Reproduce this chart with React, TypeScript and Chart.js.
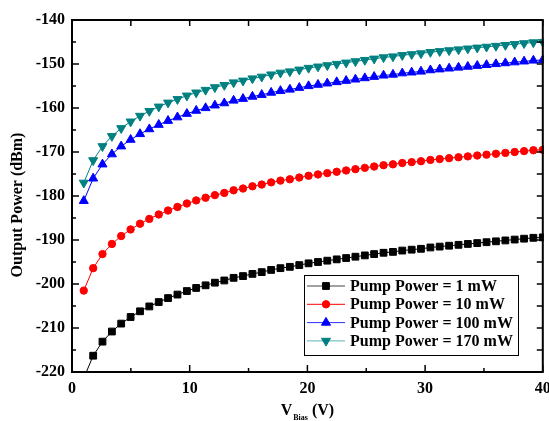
import React, { useEffect, useRef } from "react";
import { Chart, registerables } from "chart.js";

Chart.register(...registerables);

const FONT = "'Liberation Serif', 'Times New Roman', serif";

// Bias voltage (V)
const vBias = [
  1, 1.8, 2.59, 3.39, 4.18, 4.98, 5.78, 6.57, 7.37, 8.16,
  8.96, 9.76, 10.55, 11.35, 12.14, 12.94, 13.73, 14.53, 15.33, 16.12,
  16.92, 17.71, 18.51, 19.31, 20.1, 20.9, 21.69, 22.49, 23.29, 24.08,
  24.88, 25.67, 26.47, 27.27, 28.06, 28.86, 29.65, 30.45, 31.24, 32.04,
  32.84, 33.63, 34.43, 35.22, 36.02, 36.82, 37.61, 38.41, 39.2, 40,
];

// Output power (dBm)
const pump1mW = [
  -221.4, -216.3, -213.1, -210.8, -209.0, -207.5, -206.2, -205.1, -204.1, -203.2,
  -202.4, -201.6, -200.9, -200.3, -199.7, -199.2, -198.6, -198.2, -197.7, -197.3,
  -196.8, -196.4, -196.1, -195.7, -195.3, -195.0, -194.7, -194.4, -194.1, -193.8,
  -193.5, -193.2, -192.9, -192.7, -192.4, -192.2, -192.0, -191.7, -191.5, -191.3,
  -191.1, -190.9, -190.7, -190.5, -190.3, -190.1, -189.9, -189.7, -189.5, -189.4,
];
const pump10mW = [
  -201.5, -196.4, -193.2, -190.9, -189.1, -187.6, -186.3, -185.2, -184.2, -183.3,
  -182.5, -181.7, -181.0, -180.4, -179.8, -179.3, -178.7, -178.3, -177.8, -177.4,
  -176.9, -176.5, -176.2, -175.8, -175.4, -175.1, -174.8, -174.5, -174.2, -173.9,
  -173.6, -173.3, -173.0, -172.8, -172.5, -172.3, -172.1, -171.8, -171.6, -171.4,
  -171.2, -171.0, -170.8, -170.6, -170.4, -170.2, -170.0, -169.8, -169.6, -169.5,
];
const pump100mW = [
  -181.1, -176.0, -172.8, -170.5, -168.7, -167.2, -165.9, -164.8, -163.8, -162.9,
  -162.1, -161.3, -160.6, -160.0, -159.4, -158.9, -158.3, -157.9, -157.4, -157.0,
  -156.5, -156.1, -155.8, -155.4, -155.0, -154.7, -154.4, -154.1, -153.8, -153.5,
  -153.2, -152.9, -152.6, -152.4, -152.1, -151.9, -151.7, -151.4, -151.2, -151.0,
  -150.8, -150.6, -150.4, -150.2, -150.0, -149.8, -149.6, -149.4, -149.2, -149.1,
];
const pump170mW = [
  -177.0, -171.9, -168.7, -166.4, -164.6, -163.1, -161.8, -160.7, -159.7, -158.8,
  -158.0, -157.2, -156.5, -155.9, -155.3, -154.8, -154.2, -153.8, -153.3, -152.9,
  -152.4, -152.0, -151.7, -151.3, -150.9, -150.6, -150.3, -150.0, -149.7, -149.4,
  -149.1, -148.8, -148.5, -148.3, -148.0, -147.8, -147.6, -147.3, -147.1, -146.9,
  -146.7, -146.5, -146.3, -146.1, -145.9, -145.7, -145.5, -145.3, -145.1, -145.0,
];

const seriesLabels = [
  "Pump Power = 1 mW",
  "Pump Power = 10 mW",
  "Pump Power = 100 mW",
  "Pump Power = 170 mW",
];
const seriesValues = [pump1mW, pump10mW, pump100mW, pump170mW];
const seriesColors = ["#000000", "#ff0000", "#0000ff", "#008080"];
const legendLineColors = ["#444444", "#ff0000", "#3030ff", "#5fb3b3"];
const seriesStyles = ["rect", "circle", "triangle", "triangle"];
const seriesRotations = [0, 0, 0, 180];
const seriesRadii = [4.8, 3.7, 5.2, 5.2];

const xTickStep = 10;
const yTickStep = 10;
const xRange = [0, 40];
const yRange = [-220, -140];

function drawMarker(ctx: CanvasRenderingContext2D, style: string, rot: number, r: number, x: number, y: number, color: string) {
  ctx.save();
  ctx.fillStyle = color;
  ctx.strokeStyle = color;
  ctx.lineWidth = 1;
  ctx.beginPath();
  if (style === "rect") {
    const s = Math.SQRT1_2 * r;
    ctx.rect(x - s, y - s, 2 * s, 2 * s);
  } else if (style === "circle") {
    ctx.arc(x, y, r, 0, Math.PI * 2);
  } else {
    let rad = (rot * Math.PI) / 180;
    ctx.moveTo(x + Math.sin(rad) * r, y - Math.cos(rad) * r);
    rad += (2 * Math.PI) / 3;
    ctx.lineTo(x + Math.sin(rad) * r, y - Math.cos(rad) * r);
    rad += (2 * Math.PI) / 3;
    ctx.lineTo(x + Math.sin(rad) * r, y - Math.cos(rad) * r);
    ctx.closePath();
  }
  ctx.fill();
  ctx.stroke();
  ctx.restore();
}

const framePlugin = {
  id: "frameTicks",
  afterDatasetsDraw(chart: any) {
    const { ctx, chartArea } = chart;
    const { left, right, top, bottom } = chartArea;
    const xs = chart.scales.x;
    const ys = chart.scales.y;
    ctx.save();
    ctx.strokeStyle = "#000";
    ctx.lineWidth = 1.5;
    ctx.beginPath();
    for (let v = xs.min; v <= xs.max + 1e-9; v += xTickStep / 2) {
      const px = xs.getPixelForValue(v);
      const major = Math.abs(v % xTickStep) < 1e-9;
      ctx.moveTo(px, bottom);
      ctx.lineTo(px, bottom - (major ? 7 : 4));
      ctx.moveTo(px, top);
      ctx.lineTo(px, top + 6);
    }
    for (let v = ys.min; v <= ys.max + 1e-9; v += yTickStep / 2) {
      const py = ys.getPixelForValue(v);
      const major = Math.abs(v % yTickStep) < 1e-9;
      ctx.moveTo(left, py);
      ctx.lineTo(left + (major ? 7 : 4), py);
      ctx.moveTo(right, py);
      ctx.lineTo(right - 6, py);
    }
    ctx.stroke();
    ctx.lineWidth = 2;
    ctx.strokeRect(left, top, right - left, bottom - top);

    // legend
    const bx = 304, by = 275, bw = 214, bh = 80;
    ctx.fillStyle = "#fff";
    ctx.fillRect(bx, by, bw, bh);
    ctx.lineWidth = 1;
    ctx.strokeStyle = "#000";
    ctx.strokeRect(bx + 0.5, by + 0.5, bw, bh);
    ctx.font = `bold 16px ${FONT}`;
    ctx.textBaseline = "middle";
    ctx.textAlign = "left";
    seriesLabels.forEach((lab, i) => {
      const cy = by + 11 + i * 18.3;
      ctx.strokeStyle = legendLineColors[i];
      ctx.lineWidth = 1;
      ctx.beginPath();
      ctx.moveTo(307, cy);
      ctx.lineTo(345, cy);
      ctx.stroke();
      drawMarker(ctx, seriesStyles[i], seriesRotations[i], seriesRadii[i], 326, cy, seriesColors[i]);
      ctx.fillStyle = "#000";
      ctx.fillText(lab, 350, cy + 1);
    });
    ctx.restore();
  },
  afterDraw(chart: any) {
    const { ctx, chartArea } = chart;
    const { left, right } = chartArea;
    ctx.save();
    ctx.fillStyle = "#000";
    // y title
    ctx.save();
    ctx.translate(18, 205);
    ctx.rotate(-Math.PI / 2);
    ctx.font = `bold 16px ${FONT}`;
    ctx.textAlign = "center";
    ctx.textBaseline = "middle";
    ctx.fillText("Output Power (dBm)", 0, 0);
    ctx.restore();
    // x title with subscript
    const big = `bold 16px ${FONT}`;
    const small = `bold 8px ${FONT}`;
    ctx.font = big;
    const w1 = ctx.measureText("V").width;
    const w3 = ctx.measureText(" (V)").width;
    ctx.font = small;
    const w2 = ctx.measureText("Bias").width;
    const total = w1 + 1 + w2 + w3;
    let x0 = (left + right) / 2 - total / 2;
    const base = 415;
    ctx.textAlign = "left";
    ctx.textBaseline = "alphabetic";
    ctx.font = big;
    ctx.fillText("V", x0, base);
    x0 += w1 + 1;
    ctx.font = small;
    ctx.fillText("Bias", x0, base + 5);
    x0 += w2;
    ctx.font = big;
    ctx.fillText(" (V)", x0, base);
    ctx.restore();
  },
};

export default function App() {
  const ref = useRef<HTMLCanvasElement | null>(null);
  useEffect(() => {
    document.body.style.margin = "0";
    const canvas = ref.current;
    if (!canvas) return;
    const chart = new Chart(canvas, {
      type: "line",
      data: {
        datasets: seriesValues.map((vals, i) => ({
          label: seriesLabels[i],
          data: vals.map((y, k) => ({ x: vBias[k], y })),
          borderColor: seriesColors[i],
          backgroundColor: seriesColors[i],
          borderWidth: 1,
          pointStyle: seriesStyles[i] as any,
          rotation: seriesRotations[i],
          pointRadius: seriesRadii[i],
          pointBorderWidth: 1,
          pointBorderColor: seriesColors[i],
          pointBackgroundColor: seriesColors[i],
          tension: 0,
          clip: 1,
        })),
      },
      options: {
        responsive: false,
        animation: false,
        devicePixelRatio: 1,
        layout: { padding: { top: 20, right: 5, left: 0, bottom: 0 } },
        plugins: { legend: { display: false }, tooltip: { enabled: false } },
        scales: {
          x: {
            type: "linear",
            min: xRange[0],
            max: xRange[1],
            grid: { display: false, drawTicks: false },
            border: { display: false },
            ticks: {
              stepSize: xTickStep,
              color: "#000",
              font: { family: FONT, weight: "bold", size: 16 },
              padding: 7,
              maxRotation: 0,
            },
            afterFit: (s: any) => {
              s.height = 49;
              s.paddingLeft = 0;
              s.paddingRight = 0;
            },
          },
          y: {
            type: "linear",
            min: yRange[0],
            max: yRange[1],
            grid: { display: false, drawTicks: false },
            border: { display: false },
            ticks: {
              stepSize: yTickStep,
              color: "#000",
              font: { family: FONT, weight: "bold", size: 16 },
              padding: 7,
            },
            afterFit: (s: any) => {
              s.width = 72;
              s.paddingTop = 0;
              s.paddingBottom = 0;
            },
          },
        },
      },
      plugins: [framePlugin],
    });
    return () => chart.destroy();
  }, []);
  return (
    <div style={{ position: "absolute", left: 0, top: 0, width: 549, height: 421, background: "#fff" }}>
      <canvas ref={ref} width={549} height={421} style={{ width: 549, height: 421, display: "block" }} />
    </div>
  );
}
